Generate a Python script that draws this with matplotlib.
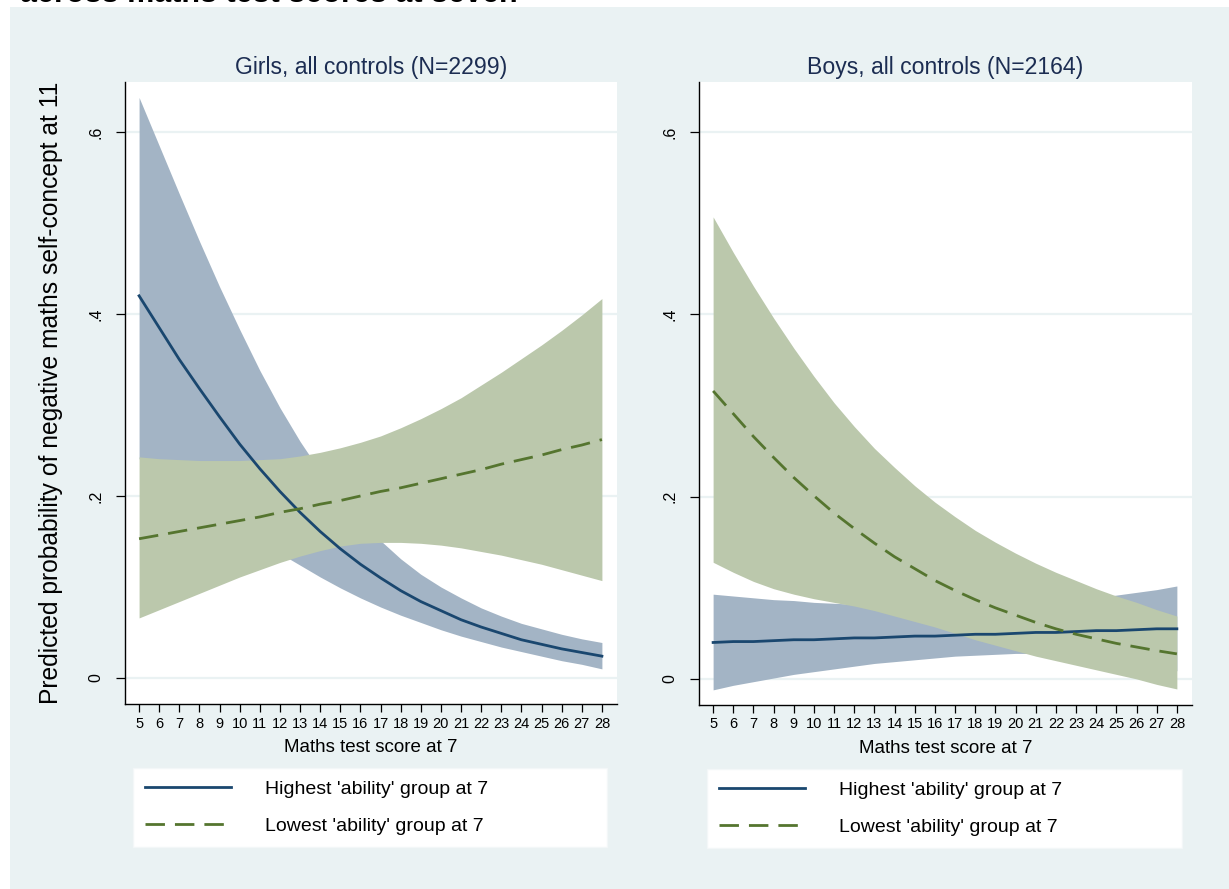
import matplotlib
matplotlib.use("Agg")
import matplotlib.pyplot as plt
from matplotlib.patches import Rectangle

plt.rcParams["font.family"] = ["Liberation Sans", "DejaVu Sans"]

# maths test score at 7 (x axis)
scores = list(range(5, 29))

# girls: predicted probability and 95% band, highest 'ability' group
girls_high = [0.420, 0.385, 0.350, 0.318, 0.287, 0.257, 0.230, 0.205, 0.182, 0.161,
              0.142, 0.125, 0.110, 0.096, 0.084, 0.074, 0.064, 0.056, 0.049, 0.042,
              0.037, 0.032, 0.028, 0.024]
girls_high_hi = [0.638, 0.585, 0.532, 0.480, 0.430, 0.383, 0.338, 0.297, 0.260, 0.227,
                 0.198, 0.173, 0.151, 0.131, 0.114, 0.100, 0.088, 0.077, 0.068, 0.060,
                 0.054, 0.048, 0.043, 0.039]
girls_high_lo = [0.241, 0.226, 0.211, 0.196, 0.181, 0.166, 0.151, 0.137, 0.124, 0.111,
                 0.099, 0.088, 0.078, 0.069, 0.061, 0.053, 0.046, 0.040, 0.034, 0.029,
                 0.024, 0.019, 0.015, 0.010]
# girls: lowest 'ability' group
girls_low = [0.153, 0.157, 0.161, 0.165, 0.169, 0.173, 0.177, 0.182, 0.186, 0.191,
             0.195, 0.200, 0.205, 0.209, 0.214, 0.219, 0.224, 0.229, 0.235, 0.240,
             0.245, 0.251, 0.256, 0.262]
girls_low_hi = [0.243, 0.241, 0.240, 0.239, 0.239, 0.239, 0.240, 0.241, 0.244, 0.248,
                0.253, 0.259, 0.266, 0.275, 0.285, 0.296, 0.308, 0.322, 0.336, 0.351,
                0.366, 0.382, 0.399, 0.417]
girls_low_lo = [0.066, 0.075, 0.084, 0.093, 0.102, 0.111, 0.119, 0.127, 0.134, 0.140,
                0.145, 0.148, 0.149, 0.149, 0.148, 0.146, 0.143, 0.139, 0.135, 0.130,
                0.125, 0.119, 0.113, 0.107]

# boys: highest 'ability' group
boys_high = [0.040, 0.041, 0.041, 0.042, 0.043, 0.043, 0.044, 0.045, 0.045, 0.046,
             0.047, 0.047, 0.048, 0.049, 0.049, 0.050, 0.051, 0.051, 0.052, 0.053,
             0.053, 0.054, 0.055, 0.055]
boys_high_hi = [0.093, 0.091, 0.089, 0.087, 0.086, 0.084, 0.083, 0.082, 0.081, 0.080,
                0.080, 0.080, 0.080, 0.080, 0.081, 0.082, 0.083, 0.085, 0.087, 0.089,
                0.092, 0.095, 0.098, 0.102]
boys_high_lo = [-0.012, -0.007, -0.003, 0.001, 0.005, 0.008, 0.011, 0.014, 0.017, 0.019,
                0.021, 0.023, 0.025, 0.026, 0.027, 0.028, 0.028, 0.027, 0.025, 0.023,
                0.020, 0.017, 0.013, 0.009]
# boys: lowest 'ability' group
boys_low = [0.316, 0.291, 0.266, 0.243, 0.221, 0.201, 0.182, 0.165, 0.149, 0.134,
            0.121, 0.108, 0.097, 0.087, 0.078, 0.070, 0.062, 0.055, 0.049, 0.044,
            0.039, 0.035, 0.031, 0.0275]
boys_low_hi = [0.507, 0.468, 0.431, 0.396, 0.363, 0.332, 0.303, 0.277, 0.253, 0.232,
               0.212, 0.194, 0.178, 0.163, 0.150, 0.138, 0.127, 0.117, 0.108, 0.099,
               0.091, 0.084, 0.076, 0.069]
boys_low_lo = [0.128, 0.117, 0.107, 0.099, 0.093, 0.088, 0.084, 0.080, 0.075, 0.069,
               0.063, 0.057, 0.050, 0.043, 0.037, 0.031, 0.025, 0.020, 0.015, 0.010,
               0.005, 0.000, -0.006, -0.011]

y_ticks = [0, 0.2, 0.4, 0.6]
y_ticklabels = ["0", ".2", ".4", ".6"]
panel_titles = ["Girls, all controls (N=2299)", "Boys, all controls (N=2164)"]
legend_labels = ["Highest 'ability' group at 7", "Lowest 'ability' group at 7"]

NAVY = "#1a476f"
GREEN = "#55752f"
NAVY_CI = "#a3b4c5"
GREEN_CI = "#bbc8ac"
BG = "#eaf2f3"
SUB = "#1c2d52"

fig = plt.figure(figsize=(12.29, 8.89), dpi=100)
fig.patch.set_facecolor("white")
# light graph region behind both panels
fig.add_artist(Rectangle((10 / 1229, 0), 1, 1 - 7 / 889, transform=fig.transFigure,
                         facecolor=BG, edgecolor="none", zorder=-5))
fig.text(20 / 1229, 1 - 2 / 889, "across maths test scores at seven", fontsize=22,
         fontweight="bold", va="baseline", ha="left")

ax_l = fig.add_axes([125 / 1229, 1 - 704 / 889, 492 / 1229, 622 / 889])
ax_r = fig.add_axes([699 / 1229, 1 - 705 / 889, 493 / 1229, 623 / 889])

panels = [
    (ax_l, girls_high, girls_high_lo, girls_high_hi, girls_low, girls_low_lo, girls_low_hi),
    (ax_r, boys_high, boys_high_lo, boys_high_hi, boys_low, boys_low_lo, boys_low_hi),
]

for i, (ax, hi, hi_lo, hi_hi, lo, lo_lo, lo_hi) in enumerate(panels):
    ax.set_facecolor("white")
    ax.fill_between(scores, hi_lo, hi_hi, color=NAVY_CI, lw=0, zorder=2)
    ax.fill_between(scores, lo_lo, lo_hi, color=GREEN_CI, lw=0, zorder=3)
    l1, = ax.plot(scores, hi, color=NAVY, lw=2.0, zorder=5)
    l2, = ax.plot(scores, lo, color=GREEN, lw=2.0, ls=(0, (7, 3.6)), zorder=5)

    ax.set_xlim(4.3, 28.75)
    ax.set_ylim(-0.0286, 0.655)
    ax.set_xticks(scores)
    ax.set_yticks(y_ticks)
    ax.set_yticklabels(y_ticklabels, rotation=90, va="center")
    ax.tick_params(axis="x", length=6, width=0.9, labelsize=10.5, pad=3)
    ax.tick_params(axis="y", length=6.5, width=0.9, labelsize=11.5, pad=9)
    for side in ("top", "right"):
        ax.spines[side].set_visible(False)
    for side in ("left", "bottom"):
        ax.spines[side].set_linewidth(1.0)
    ax.grid(True, axis="y", color=BG, lw=1.6, zorder=1)
    ax.set_axisbelow(True)
    ax.set_xlabel("Maths test score at 7", fontsize=13.5, labelpad=6)
    ax.set_title(panel_titles[i], fontsize=16.6, color=SUB, pad=6)

    leg = ax.legend([l1, l2], legend_labels, loc="upper left",
                    bbox_to_anchor=(0.017, -0.103, 0.963, 0.0), mode="expand",
                    fontsize=14, handlelength=4.4, handletextpad=1.75,
                    labelspacing=1.0, borderpad=0.62, borderaxespad=0,
                    fancybox=False, frameon=True, framealpha=1.0)
    leg.get_frame().set_facecolor("white")
    leg.get_frame().set_edgecolor("#f3f7f8")
    leg.get_frame().set_linewidth(1.0)

ax_l.set_ylabel("Predicted probability of negative maths self-concept at 11", fontsize=17.7)
ax_l.yaxis.set_label_coords(-0.127, 0.5)

fig.savefig("out.png", dpi=100, facecolor=fig.get_facecolor())
